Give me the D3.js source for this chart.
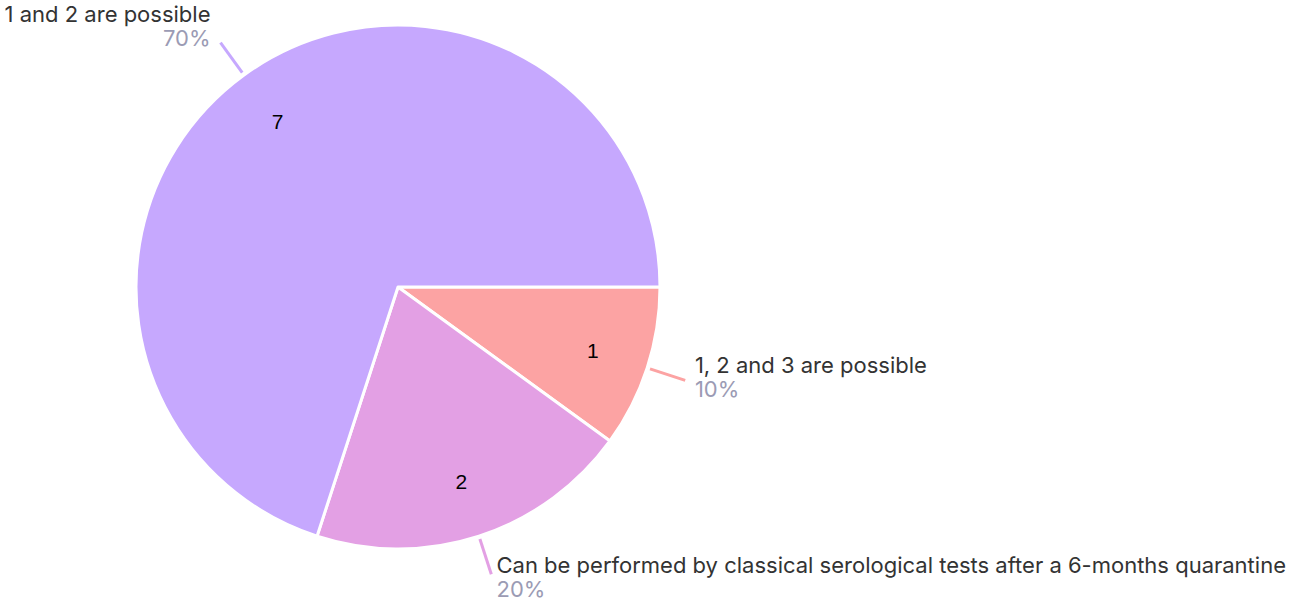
<!DOCTYPE html>
<html>
<head>
<meta charset="utf-8">
<script src="https://cdn.jsdelivr.net/npm/d3@7"></script>
<style>
  body { margin: 0; background: #fff; }
  svg { display: block; }
</style>
</head>
<body>
<script>
// chart data
var categories = ["1, 2 and 3 are possible",
                  "Can be performed by classical serological tests after a 6-months quarantine",
                  "1 and 2 are possible"];
var counts = [1, 2, 7];
var colors = ["#fca3a3", "#e3a0e4", "#c6a8fe"];

// size settings
var width = 1298;
var height = 598;
var cx = 398, cy = 287;
var radius = 262;

var svg = d3.select("body")
            .append("svg")
            .attr("width", width)
            .attr("height", height);

var total = d3.sum(counts);
var data = categories.map(function(c, i) {
  return {name: c, value: counts[i], color: colors[i]};
});

// start at 3 o'clock, go clockwise
var pie = d3.pie()
            .sort(null)
            .value(function(d) { return d.value; })
            .startAngle(Math.PI / 2)
            .endAngle(Math.PI / 2 + 2 * Math.PI);

var arc = d3.arc().innerRadius(0).outerRadius(radius);
var labelArc = d3.arc().innerRadius(205).outerRadius(205);
var lineStart = d3.arc().innerRadius(radius + 3).outerRadius(radius + 3);
var lineEnd = d3.arc().innerRadius(radius + 40).outerRadius(radius + 40);

function midAngle(d) { return (d.startAngle + d.endAngle) / 2; }

var g = svg.append("g")
           .attr("transform", "translate(" + cx + "," + cy + ")");

var arcs = pie(data);

g.selectAll("path.slice")
  .data(arcs)
  .enter().append("path")
  .attr("class", "slice")
  .attr("d", arc)
  .attr("fill", function(d) { return d.data.color; })
  .attr("stroke", "#fff")
  .attr("stroke-width", 3)
  .attr("stroke-linejoin", "round");

// values inside slices
g.selectAll("text.value")
  .data(arcs)
  .enter().append("text")
  .attr("class", "value")
  .attr("transform", function(d) { return "translate(" + labelArc.centroid(d) + ")"; })
  .attr("text-anchor", "middle")
  .attr("dy", "0.35em")
  .attr("font-family", "Liberation Sans, Arial, sans-serif")
  .attr("font-size", 21)
  .attr("fill", "#000")
  .text(function(d) { return d.data.value; });

// leader lines
g.selectAll("line.leader")
  .data(arcs)
  .enter().append("line")
  .attr("class", "leader")
  .attr("x1", function(d) { return lineStart.centroid(d)[0]; })
  .attr("y1", function(d) { return lineStart.centroid(d)[1]; })
  .attr("x2", function(d) { return lineEnd.centroid(d)[0]; })
  .attr("y2", function(d) { return lineEnd.centroid(d)[1]; })
  .attr("stroke", function(d) { return d.data.color; })
  .attr("stroke-width", 3);

// outside labels
function labelX(d) {
  var p = lineEnd.centroid(d);
  var s = Math.sin(midAngle(d));
  return p[0] + (s < 0 ? -10 : 3 + 7 * Math.abs(s));
}

var labels = g.selectAll("g.label")
  .data(arcs)
  .enter().append("g")
  .attr("class", "label")
  .attr("transform", function(d) {
    var p = lineEnd.centroid(d);
    var c = Math.cos(midAngle(d));
    var y = p[1] + (c > 0 ? -21 : (c < -0.8 ? -1 : -7));
    return "translate(" + labelX(d) + "," + y + ")";
  })
  .attr("text-anchor", function(d) {
    return Math.sin(midAngle(d)) < 0 ? "end" : "start";
  })
  .attr("font-family", "Inter, Lato, sans-serif")
  .attr("font-size", 22);

labels.append("text")
  .attr("fill", "#333333")
  .text(function(d) { return d.data.name; })
  .each(function(d) {
    var w = this.getComputedTextLength();
    var x0 = labelX(d) + cx;
    if (Math.sin(midAngle(d)) > 0 && x0 + w > width) {
      d3.select(this).attr("textLength", width - x0).attr("lengthAdjust", "spacingAndGlyphs");
    }
  });

labels.append("text")
  .attr("y", 24)
  .attr("fill", "#9b9bb4")
  .text(function(d) { return Math.round(d.data.value / total * 100) + "%"; });
</script>
</body>
</html>
